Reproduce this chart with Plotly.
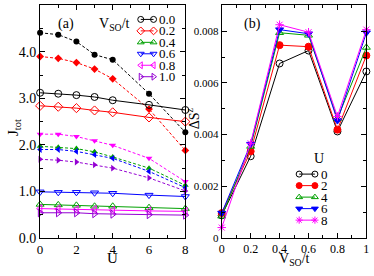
import plotly.graph_objects as go

# Panel (a): J_tot vs U
U_vals = [0, 1, 2, 3, 4, 6, 8]
vso_labels = ["0.0", "0.2", "0.4", "0.6", "0.8", "1.0"]
J_solid = {
    "0.0": [3.12, 3.10, 3.07, 3.03, 2.96, 2.86, 2.75],
    "0.2": [2.84, 2.82, 2.79, 2.74, 2.70, 2.59, 2.50],
    "0.4": [0.72, 0.71, 0.70, 0.68, 0.68, 0.65, 0.63],
    "0.6": [0.99, 0.98, 0.98, 0.97, 0.96, 0.92, 0.89],
    "0.8": [0.63, 0.62, 0.61, 0.61, 0.59, 0.58, 0.57],
    "1.0": [0.54, 0.54, 0.54, 0.52, 0.51, 0.50, 0.49],
}
J_dashed = {
    "0.0": [4.41, 4.37, 4.22, 3.94, 3.83, 3.10, 2.27],
    "0.2": [3.90, 3.86, 3.77, 3.63, 3.42, 2.77, 1.88],
    "0.4": [1.97, 1.95, 1.92, 1.85, 1.74, 1.50, 1.13],
    "0.6": [1.90, 1.90, 1.86, 1.79, 1.71, 1.43, 1.08],
    "0.8": [2.23, 2.23, 2.18, 2.09, 1.99, 1.71, 1.21],
    "1.0": [1.69, 1.67, 1.63, 1.57, 1.50, 1.29, 1.01],
}

# Panel (b): Delta S^z vs V_SO/t
vso_vals = [0, 0.2, 0.4, 0.6, 0.8, 1.0]
u_labels = ["0", "2", "4", "6", "8"]
dSz = {
    "0": [0.00087, 0.00316, 0.00675, 0.00725, 0.00412, 0.00644],
    "2": [0.00096, 0.00335, 0.00746, 0.00740, 0.00419, 0.00706],
    "4": [0.00084, 0.00354, 0.00794, 0.00784, 0.00462, 0.00737],
    "6": [0.00096, 0.00363, 0.00806, 0.00790, 0.00454, 0.00794],
    "8": [0.00040, 0.00366, 0.00825, 0.00796, 0.00470, 0.00806],
}

colors_a = {"0.0": "#000000", "0.2": "#ff0000", "0.4": "#00a000",
            "0.6": "#0000ff", "0.8": "#ff00ff", "1.0": "#9400d3"}
open_sym = {"0.0": "circle-open", "0.2": "diamond-open", "0.4": "triangle-up-open",
            "0.6": "triangle-down-open", "0.8": "triangle-left-open", "1.0": "triangle-right-open"}
fill_sym = {"0.0": "circle", "0.2": "diamond", "0.4": "triangle-up",
            "0.6": "triangle-left", "0.8": "triangle-down", "1.0": "triangle-right"}

colors_b = {"0": "#000000", "2": "#ff0000", "4": "#00a000", "6": "#0000ff", "8": "#ff00ff"}
sym_b = {"0": "circle-open", "2": "circle", "4": "triangle-up-open",
         "6": "triangle-down", "8": "asterisk-open"}

FONT = "Liberation Serif"
W, H = 374, 276
fig = go.Figure()

for k in vso_labels:
    fig.add_trace(go.Scatter(x=U_vals, y=J_dashed[k], mode="lines+markers",
                             line=dict(color=colors_a[k], width=1, dash="3px,2px"),
                             marker=dict(symbol=fill_sym[k], size=6, color=colors_a[k]),
                             xaxis="x", yaxis="y", showlegend=False, cliponaxis=False))
for k in vso_labels:
    fig.add_trace(go.Scatter(x=U_vals, y=J_solid[k], mode="lines+markers",
                             line=dict(color=colors_a[k], width=1),
                             marker=dict(symbol=open_sym[k], size=7, color=colors_a[k],
                                         line=dict(width=1, color=colors_a[k])),
                             xaxis="x", yaxis="y", showlegend=False, cliponaxis=False))
for k in u_labels:
    fig.add_trace(go.Scatter(x=vso_vals, y=dSz[k], mode="lines+markers",
                             line=dict(color=colors_b[k], width=1),
                             marker=dict(symbol=sym_b[k], size=7, color=colors_b[k],
                                         line=dict(width=1, color=colors_b[k])),
                             xaxis="x2", yaxis="y2", showlegend=False, cliponaxis=False))

# Compact legends drawn on a pixel overlay axis (x3/y3)
annotations = []
def legend_block(labels, colors, symbols, x0, x1, y0, step, xtext, msize):
    for i, k in enumerate(labels):
        yy = y0 + i * step
        fig.add_trace(go.Scatter(x=[x0, x1], y=[yy, yy], mode="lines+markers",
                                 line=dict(color=colors[k], width=1),
                                 marker=dict(symbol=symbols[k], size=msize, color=colors[k],
                                             line=dict(width=1, color=colors[k])),
                                 xaxis="x3", yaxis="y3", showlegend=False,
                                 cliponaxis=False, hoverinfo="skip"))
        annotations.append(dict(text=k, x=xtext, y=yy, xref="x3", yref="y3",
                                xanchor="left", yanchor="middle", showarrow=False,
                                font=dict(family=FONT, size=13, color="black")))

legend_block(vso_labels, colors_a, open_sym, 140, 153, 20, 11.8, 156, 6)
legend_block(u_labels, colors_b, sym_b, 301, 317, 179.3, 11.85, 321, 6)

def fx(px):
    return px / W
def fy(py):
    return 1 - py / H

axis_common = dict(showline=True, linecolor="black", linewidth=1, mirror="allticks",
                   ticks="inside", ticklen=5, tickcolor="black", showgrid=False,
                   zeroline=False)

def label(text, px, py, size, angle=0):
    return dict(text=text, x=fx(px), y=fy(py), xref="paper", yref="paper",
                xanchor="center", yanchor="middle", showarrow=False,
                textangle=angle, font=dict(family=FONT, size=size, color="black"))

annotations += [
    label("(a)", 64, 25, 14),
    label("V<sub>SO</sub>/t", 113, 25, 14),
    label("(b)", 254, 25, 14),
    label("U", 321, 163, 14),
    label("J<sub>tot</sub>", 11, 131, 15, -90),
    label("U", 111, 266, 15),
    label("ΔS<sup>z</sup>", 194, 122, 14, -90),
    label("V<sub>SO</sub>/t", 296, 267, 14),
]

fig.update_layout(
    width=W, height=H, margin=dict(l=0, r=0, t=0, b=0),
    paper_bgcolor="white", plot_bgcolor="rgba(0,0,0,0)",
    font=dict(family=FONT, size=12, color="black"),
    showlegend=False,
    xaxis=dict(domain=[fx(37.7), fx(185.3)], range=[0, 8], tickvals=[0, 2, 4, 6, 8],
               minor=dict(ticks="inside", ticklen=3, dtick=1, tickcolor="black"),
               tickfont=dict(family=FONT, size=13, color="black"),
               anchor="y", **axis_common),
    yaxis=dict(domain=[fy(245), fy(5.5)], range=[0, 5], tickvals=[0, 1, 2, 3, 4, 5],
               ticktext=["0.0", "1.0", "2.0", "3.0", "4.0", "5.0"],
               minor=dict(ticks="inside", ticklen=3, dtick=0.5, tickcolor="black"),
               tickfont=dict(family=FONT, size=14, color="black"),
               anchor="x", **axis_common),
    xaxis2=dict(domain=[fx(222.3), fx(369.3)], range=[0, 1],
                tickvals=[0, 0.2, 0.4, 0.6, 0.8, 1.0],
                ticktext=["0", "0.2", "0.4", "0.6", "0.8", "1"],
                minor=dict(ticks="inside", ticklen=3, dtick=0.1, tickcolor="black"),
                tickfont=dict(family=FONT, size=12, color="black"),
                anchor="y2", **axis_common),
    yaxis2=dict(domain=[fy(245), fy(5.5)], range=[0, 0.009],
                tickvals=[0, 0.002, 0.004, 0.006, 0.008],
                ticktext=["0", "0.002", "0.004", "0.006", "0.008"],
                minor=dict(ticks="inside", ticklen=3, dtick=0.001, tickcolor="black"),
                tickfont=dict(family=FONT, size=11, color="black"),
                anchor="x2", **axis_common),
    xaxis3=dict(domain=[0, 1], range=[0, W], visible=False, anchor="y3", fixedrange=True),
    yaxis3=dict(domain=[0, 1], range=[H, 0], visible=False, anchor="x3", fixedrange=True),
    annotations=annotations,
)

fig.write_html("out.html", post_script="document.body.style.margin='0';",
               config={"displayModeBar": False, "staticPlot": True})
